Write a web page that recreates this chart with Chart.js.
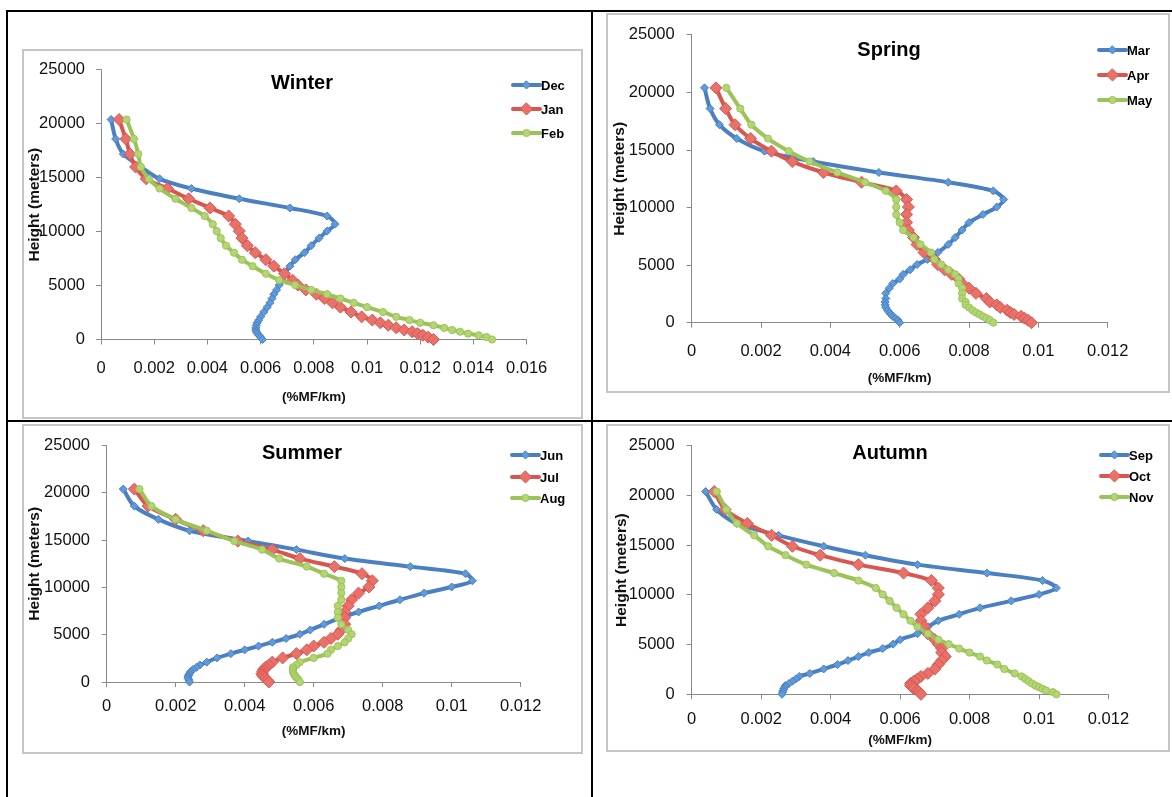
<!DOCTYPE html>
<html>
<head>
<meta charset="utf-8">
<script src="https://cdn.jsdelivr.net/npm/chart.js@4.4.1/dist/chart.umd.min.js"></script>
<style>
html,body{margin:0;padding:0;background:#fff;}
body{width:1172px;height:797px;position:relative;overflow:hidden;}
.rule{position:absolute;background:#000;}
.frame{position:absolute;border:2px solid #c6c6c6;box-sizing:border-box;}
canvas{position:absolute;}
</style>
</head>
<body>
<div class="rule" style="left:6px;top:10px;width:1166px;height:2px"></div>
<div class="rule" style="left:6px;top:10px;width:2px;height:787px"></div>
<div class="rule" style="left:591px;top:10px;width:2px;height:787px"></div>
<div class="rule" style="left:6px;top:420px;width:1166px;height:2px"></div>
<div id="holder"></div>
<script>
// ---------------- DATA ----------------
const heightLevels = [20400, 18600, 17200, 16000, 14900, 14000, 13050, 12200, 11450, 10700,
  10050, 9400, 8700, 8050, 7400, 6800, 6100, 5500, 5050, 4600,
  4200, 3800, 3400, 3000, 2550, 2100, 1800, 1550, 1320, 1080,
  880, 720, 550, 390, 220, 0];

const winterMonths = ['Dec', 'Jan', 'Feb'];
const springMonths = ['Mar', 'Apr', 'May'];
const summerMonths = ['Jun', 'Jul', 'Aug'];
const autumnMonths = ['Sep', 'Oct', 'Nov'];

const dec = [0.00038,0.00055,0.00084,0.0015,0.0022,0.0034,0.0052,0.0071,0.0085,0.0088,
  0.0085,0.0082,0.0079,0.00765,0.0073,0.0071,0.0069,0.0068,0.0067,0.0066,
  0.0065,0.00643,0.00635,0.00625,0.00612,0.006,0.00593,0.00587,0.00584,0.00582,
  0.00582,0.00584,0.00588,0.00594,0.006,0.00607];
const jan = [0.00068,0.00093,0.00109,0.0013,0.0017,0.0025,0.0033,0.0041,0.0048,0.00505,
  0.0052,0.0053,0.0055,0.0058,0.0062,0.0065,0.0069,0.0072,0.0074,0.0077,
  0.0081,0.0084,0.0087,0.009,0.0094,0.0098,0.0102,0.0105,0.0108,0.0111,
  0.0114,0.0117,0.0119,0.0121,0.0123,0.0125];
const feb = [0.00096,0.00124,0.0014,0.0015,0.0018,0.0022,0.0028,0.0034,0.0039,0.0042,
  0.00435,0.0045,0.0047,0.005,0.0053,0.0057,0.0062,0.0067,0.0073,0.0079,
  0.0085,0.009,0.0095,0.01,0.0106,0.0111,0.0116,0.012,0.0125,0.0129,
  0.0132,0.0135,0.0138,0.0142,0.0145,0.0147];

const mar = [0.00037,0.00053,0.0008,0.0013,0.0021,0.0035,0.0054,0.0074,0.0087,0.009,
  0.0088,0.0084,0.008,0.0078,0.0076,0.0074,0.0071,0.0068,0.0065,0.0063,
  0.0061,0.006,0.0058,0.0057,0.0056,0.0056,0.00558,0.00558,0.0056,0.00565,
  0.0057,0.00575,0.0058,0.00588,0.00595,0.006];
const apr = [0.0007,0.00098,0.00125,0.0017,0.0023,0.0029,0.0038,0.0049,0.0059,0.0062,
  0.00625,0.0062,0.0062,0.00625,0.0064,0.0065,0.0067,0.007,0.0071,0.0073,
  0.0075,0.0077,0.0078,0.008,0.0082,0.0085,0.0086,0.0088,0.0089,0.0091,
  0.0092,0.0093,0.0095,0.0096,0.0097,0.0098];
const may = [0.001,0.0014,0.00172,0.0022,0.0028,0.0034,0.0042,0.005,0.0056,0.0059,
  0.0059,0.0059,0.006,0.0061,0.0064,0.0066,0.0069,0.007,0.0072,0.0074,
  0.0076,0.0077,0.0077,0.0078,0.0078,0.0078,0.0079,0.0079,0.008,0.0081,
  0.0082,0.0083,0.0084,0.0085,0.0086,0.0087];

const jun = [0.00048,0.0008,0.0015,0.0024,0.0041,0.0055,0.0069,0.0088,0.0104,0.0106,
  0.01,0.0092,0.0085,0.0079,0.0073,0.0068,0.0063,0.0059,0.0056,0.0052,
  0.0048,0.0044,0.004,0.0036,0.0032,0.0029,0.0027,0.0026,0.0025,0.00243,
  0.0024,0.00237,0.00236,0.00236,0.00238,0.0024];
const jul = [0.0008,0.0012,0.002,0.0028,0.0038,0.0048,0.0056,0.0066,0.0074,0.0077,
  0.0076,0.0073,0.0071,0.007,0.0069,0.0069,0.0069,0.0068,0.0067,0.0065,
  0.0063,0.006,0.0058,0.0055,0.0051,0.0048,0.0047,0.0046,0.00455,0.00452,
  0.0045,0.00452,0.00455,0.0046,0.00465,0.0047];
const aug = [0.00095,0.0013,0.002,0.0029,0.0037,0.0045,0.005,0.0058,0.0063,0.0068,
  0.0068,0.0068,0.0068,0.0067,0.0067,0.0067,0.0068,0.007,0.0071,0.007,
  0.0069,0.0067,0.0065,0.0064,0.006,0.0056,0.0055,0.0054,0.0054,0.0054,
  0.00542,0.00545,0.00548,0.00552,0.00556,0.0056];

const sep = [0.0004,0.00072,0.0013,0.0025,0.0038,0.005,0.0065,0.0085,0.0101,0.0105,
  0.01,0.0092,0.0083,0.0077,0.0071,0.0068,0.0065,0.006,0.0058,0.0055,
  0.0051,0.0048,0.0045,0.0042,0.0038,0.0034,0.0031,0.003,0.0029,0.0028,
  0.0027,0.00268,0.00265,0.00263,0.00262,0.0026];
const oct = [0.00065,0.00096,0.0016,0.0023,0.0029,0.0037,0.0048,0.0061,0.0069,0.0071,
  0.0071,0.007,0.0068,0.0066,0.0066,0.0067,0.0068,0.007,0.0071,0.0072,
  0.0072,0.0073,0.0072,0.0071,0.007,0.0068,0.0066,0.0065,0.0064,0.0063,
  0.0063,0.00635,0.0064,0.0065,0.00655,0.0066];
const nov = [0.00072,0.001,0.0013,0.0018,0.0022,0.0027,0.0033,0.0041,0.0048,0.0053,
  0.0055,0.0057,0.0059,0.0061,0.0063,0.0065,0.0068,0.0071,0.0074,0.0077,
  0.008,0.0083,0.0085,0.0088,0.009,0.0093,0.0095,0.0096,0.0097,0.0098,
  0.0099,0.01,0.0101,0.0102,0.0104,0.0105];

const winterXTicks = [0, 0.002, 0.004, 0.006, 0.008, 0.01, 0.012, 0.014, 0.016];
const otherXTicks = [0, 0.002, 0.004, 0.006, 0.008, 0.01, 0.012];
const heightTicks = [0, 5000, 10000, 15000, 20000, 25000];

const xAxisTitle = '(%MF/km)';
const yAxisTitle = 'Height (meters)';

// ---------------- STYLE / LAYOUT ----------------
const FONT = '"Liberation Sans", Arial, sans-serif';
const seriesStyles = [
  {line: '#4a80c2', fill: '#5f9ad9', style: 'rectRot', r: 4},
  {line: '#d9564f', fill: '#e8716a', style: 'rectRot', r: 6},
  {line: '#9cc35a', fill: '#b3d672', style: 'circle', r: 3.6}
];

const panels = [
  {title: 'Winter', names: winterMonths, series: [dec, jan, feb], xTicks: winterXTicks,
   frame: [22, 49, 561, 370], plot: [101, 61, 526.6, 339.5], titleXY: [302, 83],
   legend: {x: 513, ys: [85, 109, 133]}, yTitleX: 35, xTitleY: 397, xTickOff: 29, yTickGap: 16},
  {title: 'Spring', names: springMonths, series: [mar, apr, may], xTicks: otherXTicks,
   frame: [606, 13, 564, 380], plot: [691.7, 26.4, 1107.7, 322.7], titleXY: [889, 50],
   legend: {x: 1099, ys: [50, 75, 100]}, yTitleX: 620, xTitleY: 378.5, xTickOff: 29, yTickGap: 17},
  {title: 'Summer', names: summerMonths, series: [jun, jul, aug], xTicks: otherXTicks,
   frame: [22, 424, 561, 330], plot: [106.7, 433.6, 520.7, 682], titleXY: [302, 453],
   legend: {x: 512, ys: [455, 477, 498]}, yTitleX: 35, xTitleY: 731.5, xTickOff: 24.7, yTickGap: 16.7},
  {title: 'Autumn', names: autumnMonths, series: [sep, oct, nov], xTicks: otherXTicks,
   frame: [606, 424, 564, 328], plot: [691.7, 433.5, 1108.5, 694.3], titleXY: [890, 453],
   legend: {x: 1101, ys: [455, 476, 497]}, yTitleX: 621.5, xTitleY: 740.7, xTickOff: 25, yTickGap: 17}
];

const TICK_SIZE = 16.5;

function drawMarker(ctx, st, x, y) {
  ctx.beginPath();
  if (st.style === 'circle') {
    ctx.arc(x, y, st.r, 0, Math.PI * 2);
  } else {
    ctx.moveTo(x, y - st.r); ctx.lineTo(x + st.r, y); ctx.lineTo(x, y + st.r); ctx.lineTo(x - st.r, y); ctx.closePath();
  }
  ctx.fillStyle = st.fill; ctx.fill();
  ctx.lineWidth = 1; ctx.strokeStyle = st.line; ctx.stroke();
}

const decoPlugin = {
  id: 'deco',
  afterDraw(chart, args, o) {
    const ctx = chart.ctx;
    ctx.save();
    ctx.fillStyle = '#000';
    ctx.font = 'bold 20px ' + FONT;
    ctx.textAlign = 'center';
    ctx.textBaseline = 'middle';
    ctx.fillText(o.title, o.tx, o.ty);
    ctx.font = 'bold 13px ' + FONT;
    ctx.textAlign = 'left';
    o.names.forEach((n, i) => {
      const st = seriesStyles[i];
      const y = o.ys[i];
      ctx.beginPath();
      ctx.moveTo(o.lx, y); ctx.lineTo(o.lx + 27, y);
      ctx.lineWidth = 4; ctx.strokeStyle = st.line; ctx.lineCap = 'round'; ctx.stroke();
      drawMarker(ctx, st, o.lx + 13.5, y);
      ctx.fillStyle = '#000';
      ctx.fillText(n, o.lx + 28, y + 1);
    });
    ctx.restore();
  }
};

const holder = document.getElementById('holder');
panels.forEach((p, k) => {
  const [fx, fy, fw, fh] = p.frame;
  const fr = document.createElement('div');
  fr.className = 'frame';
  fr.style.cssText = `left:${fx}px;top:${fy}px;width:${fw}px;height:${fh}px`;
  holder.appendChild(fr);
  const cv = document.createElement('canvas');
  cv.width = fw; cv.height = fh;
  cv.style.cssText = `left:${fx}px;top:${fy}px;width:${fw}px;height:${fh}px`;
  holder.appendChild(cv);

  const datasets = p.series.map((vals, i) => {
    const st = seriesStyles[i];
    return {
      label: p.names[i],
      data: vals.map((v, j) => ({x: v, y: heightLevels[j]})),
      showLine: true,
      borderColor: st.line,
      borderWidth: 4,
      backgroundColor: st.fill,
      pointStyle: st.style,
      pointRadius: st.r,
      pointBorderColor: st.line,
      pointBorderWidth: 1,
      pointBackgroundColor: st.fill,
      tension: 0.3,
      clip: false,
      order: 3 - i
    };
  });

  const xTicks = p.xTicks;
  const tickLH = TICK_SIZE * 1.2;
  new Chart(cv, {
    type: 'scatter',
    data: {datasets},
    plugins: [decoPlugin],
    options: {
      responsive: false,
      animation: false,
      events: [],
      layout: {padding: {left: 0, top: p.plot[1] - fy, right: fx + fw - p.plot[2], bottom: 0}},
      plugins: {
        legend: {display: false},
        title: {display: false},
        tooltip: {enabled: false},
        deco: {title: p.title, tx: p.titleXY[0] - fx, ty: p.titleXY[1] - fy, names: p.names,
               lx: p.legend.x - fx, ys: p.legend.ys.map(y => y - fy)}
      },
      scales: {
        x: {
          type: 'linear', min: xTicks[0], max: xTicks[xTicks.length - 1],
          afterBuildTicks: s => { s.ticks = xTicks.map(v => ({value: v})); },
          afterFit: s => { s.height = fy + fh - p.plot[3]; },
          grid: {display: true, drawOnChartArea: false, drawTicks: true, tickLength: 5, color: '#8a8a8a'},
          border: {display: true, color: '#8a8a8a', width: 1},
          ticks: {color: '#111', font: {family: FONT, size: TICK_SIZE}, padding: p.xTickOff - 5 - tickLH / 2,
                  maxRotation: 0, autoSkip: false, callback: v => String(v)},
          title: {display: true, text: xAxisTitle, color: '#111', font: {family: FONT, size: 13.5, weight: 'bold'},
                  padding: {top: 0, bottom: (fy + fh - p.xTitleY) - 8.1}}
        },
        y: {
          type: 'linear', min: heightTicks[0], max: heightTicks[heightTicks.length - 1],
          afterBuildTicks: s => { s.ticks = heightTicks.map(v => ({value: v})); },
          afterFit: s => { s.width = p.plot[0] - fx; },
          grid: {display: true, drawOnChartArea: false, drawTicks: true, tickLength: 5, color: '#8a8a8a'},
          border: {display: true, color: '#8a8a8a', width: 1},
          ticks: {color: '#111', font: {family: FONT, size: TICK_SIZE}, padding: p.yTickGap - 5,
                  autoSkip: false, callback: v => String(v)},
          title: {display: true, text: yAxisTitle, color: '#111', font: {family: FONT, size: 15.5, weight: 'bold'},
                  padding: {top: (p.yTitleX - fx) - 9.3, bottom: 0}}
        }
      }
    }
  });
});
</script>
</body>
</html>
